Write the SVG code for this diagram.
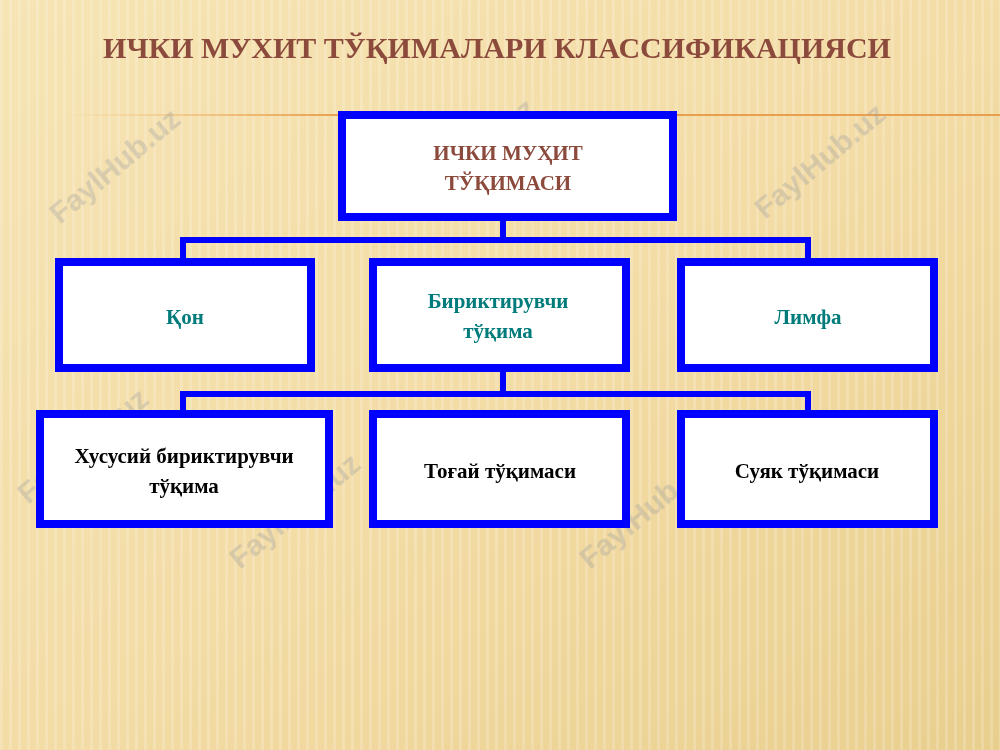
<svg xmlns="http://www.w3.org/2000/svg" width="1000" height="750" viewBox="0 0 1000 750">
<defs>
<linearGradient id="bg" x1="0" y1="0" x2="1" y2="1">
<stop offset="0" stop-color="#f6e4b4"/><stop offset="0.5" stop-color="#f3dca6"/><stop offset="1" stop-color="#e9cf8e"/>
</linearGradient>
<pattern id="st" width="9" height="750" patternUnits="userSpaceOnUse">
<rect x="0" y="0" width="3" height="750" fill="#ffffff" opacity="0.18"/>
</pattern>
<linearGradient id="ln" x1="0" x2="1"><stop offset="0" stop-color="#f0b060" stop-opacity="0"/><stop offset="0.3" stop-color="#e8a050"/><stop offset="1" stop-color="#e8a050"/></linearGradient>
</defs>
<style>
.box{fill:#fff;stroke:#0000ff;stroke-width:8}
.con{fill:none;stroke:#0000ff;stroke-width:6}
.t{font-family:"Liberation Serif",serif;font-weight:bold;font-size:21px;text-anchor:middle}
.wm{font-family:"Liberation Sans",sans-serif;font-weight:bold;font-size:30px;fill:#a0a0a0;opacity:0.35}
</style>
<rect width="1000" height="750" fill="url(#bg)"/>
<rect width="1000" height="750" fill="url(#st)"/>
<rect x="60" y="114" width="940" height="2" fill="url(#ln)"/>
<g class="wm">
<text transform="translate(60,225) rotate(-40)">FaylHub.uz</text>
<text transform="translate(415,215) rotate(-40)">FaylHub.uz</text>
<text transform="translate(765,220) rotate(-40)">FaylHub.uz</text>
<text transform="translate(28,505) rotate(-40)">FaylHub.uz</text>
<text transform="translate(240,570) rotate(-40)">FaylHub.uz</text>
<text transform="translate(590,570) rotate(-40)">FaylHub.uz</text>
</g>
<text x="497" y="58" font-family="Liberation Serif,serif" font-weight="bold" font-size="30" fill="#8c4a3c" text-anchor="middle">ИЧКИ МУХИТ ТЎҚИМАЛАРИ КЛАССИФИКАЦИЯСИ</text>
<g id="connectors">
<path class="con" d="M503 218V240M183 262V240H808V262"/>
<path class="con" d="M503 370V394M183 414V394H808V414"/>
</g>
<g id="root"><rect class="box" x="342" y="115" width="331" height="102"/>
<text class="t" fill="#8c4a3c"><tspan x="508" y="160">ИЧКИ МУҲИТ</tspan><tspan x="508" y="190">ТЎҚИМАСИ</tspan></text></g>
<g id="kon"><rect class="box" x="59" y="262" width="252" height="106"/><text class="t" fill="#007b7b" x="185" y="324">Қон</text></g>
<g id="birik"><rect class="box" x="373" y="262" width="253" height="106"/><text class="t" fill="#007b7b"><tspan x="498" y="308">Бириктирувчи</tspan><tspan x="498" y="338">тўқима</tspan></text></g>
<g id="limfa"><rect class="box" x="681" y="262" width="253" height="106"/><text class="t" fill="#007b7b" x="808" y="324">Лимфа</text></g>
<g id="xus"><rect class="box" x="40" y="414" width="289" height="110"/><text class="t" fill="#000"><tspan x="184" y="463">Хусусий бириктирувчи</tspan><tspan x="184" y="493">тўқима</tspan></text></g>
<g id="togay"><rect class="box" x="373" y="414" width="253" height="110"/><text class="t" fill="#000" x="500" y="478">Тоғай тўқимаси</text></g>
<g id="suyak"><rect class="box" x="681" y="414" width="253" height="110"/><text class="t" fill="#000" x="807" y="478">Суяк тўқимаси</text></g>
</svg>
